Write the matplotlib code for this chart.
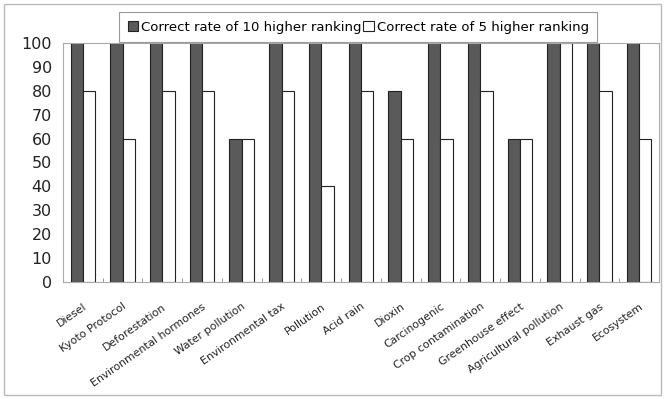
import matplotlib
matplotlib.use("Agg")
import matplotlib.pyplot as plt
import numpy as np
from matplotlib.patches import Rectangle

categories = ["Diesel", "Kyoto Protocol", "Deforestation", "Environmental hormones",
              "Water pollution", "Environmental tax", "Pollution", "Acid rain", "Dioxin",
              "Carcinogenic", "Crop contamination", "Greenhouse effect",
              "Agricultural pollution", "Exhaust gas", "Ecosystem"]
rate_top10 = [100, 100, 100, 100, 60, 100, 100, 100, 80, 100, 100, 60, 100, 100, 100]
rate_top5 = [80, 60, 80, 80, 60, 80, 40, 80, 60, 60, 80, 60, 100, 80, 60]
series_names = ["Correct rate of 10 higher ranking", "Correct rate of 5 higher ranking"]
y_ticks = list(range(0, 101, 10))

plt.rcParams['font.family'] = ['DejaVu Sans']

fig = plt.figure(figsize=(6.66, 3.99), dpi=100)
ax = fig.add_axes([63/666, 1-282/399, (659-63)/666, (282-43)/399])

x = np.arange(len(categories))
w = 0.31
ax.bar(x - w/2, rate_top10, w, color="#5a5a5a", edgecolor="#222222", linewidth=0.8,
       label=series_names[0])
ax.bar(x + w/2, rate_top5, w, color="white", edgecolor="#222222", linewidth=0.8,
       label=series_names[1])

ax.set_xlim(-0.5, len(categories) - 0.5)
ax.set_ylim(0, 100)
ax.set_yticks(y_ticks)
ax.set_yticklabels([str(v) for v in y_ticks], fontsize=11.5, color="#222222")
ax.tick_params(axis="y", length=0, pad=8)

ax.set_xticks(x)
ax.set_xticklabels(categories, rotation=35, ha="right", rotation_mode="anchor",
                   fontsize=7.8, color="#222222")
ax.tick_params(axis="x", length=0, pad=14)
# small boundary ticks between categories
ax.set_xticks(np.arange(-0.5, len(categories), 1), minor=True)
ax.tick_params(axis="x", which="minor", direction="in", length=3, color="#888888")

for s in ax.spines.values():
    s.set_color("#aaaaaa")
    s.set_linewidth(0.8)

leg = fig.legend(loc="upper center", bbox_to_anchor=(0.538, 1 - 12/399), ncol=2,
                 frameon=True, fancybox=False, fontsize=9.5, handlelength=0.8,
                 handleheight=0.8, handletextpad=0.2, columnspacing=0.15,
                 borderpad=0.65, borderaxespad=0, edgecolor="#999999", framealpha=1)
leg.get_frame().set_linewidth(0.8)

fig.patches.append(Rectangle((4/666, 4/399), 657/666, 391/399, transform=fig.transFigure,
                             fill=False, edgecolor="#bbbbbb", linewidth=1.0))

fig.savefig("out.png", dpi=100)
